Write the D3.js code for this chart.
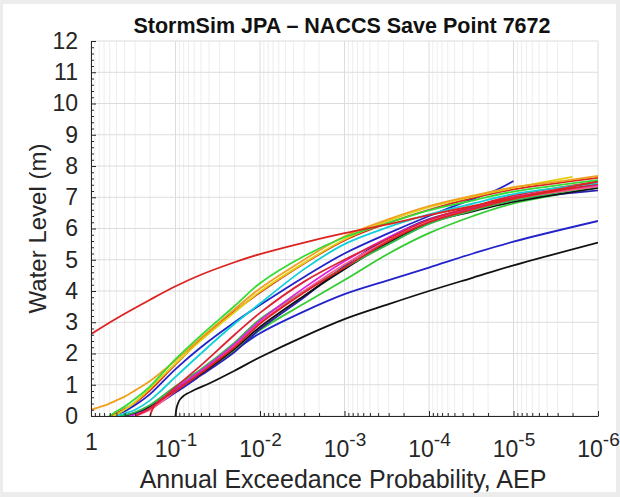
<!DOCTYPE html>
<html><head><meta charset="utf-8">
<script src="https://cdn.jsdelivr.net/npm/d3@7"></script>
<style>
html,body{margin:0;padding:0;background:#ececec;}
svg{display:block;}
text{font-family:"Liberation Sans",Arial,Helvetica,sans-serif;}
</style></head><body><svg id="c" width="620" height="497"></svg>
<script>
// ---- data: [AEP, water level (m)] ----
const redTop   = [[1,2.62],[0.5,3.12],[0.2,3.72],[0.1,4.15],[0.05,4.52],[0.02,4.92],[0.01,5.18],[3e-3,5.55],[1e-3,5.85],[3e-4,6.14],[1e-4,6.43],[3e-5,6.72],[1e-5,6.98],[1e-6,7.5]];
const blackLow = [[0.1,0],[0.098,0.2],[0.095,0.35],[0.09,0.5],[0.08,0.65],[0.06,0.83],[0.04,1.04],[0.02,1.45],[0.01,1.88],[3e-3,2.55],[1e-3,3.1],[3e-4,3.58],[1e-4,4.0],[3e-5,4.43],[1e-5,4.82],[1e-6,5.55]];
const blueLow  = [[0.4,0],[0.3,0.08],[0.2,0.3],[0.15,0.5],[0.1,0.85],[0.05,1.45],[0.02,2.1],[0.01,2.65],[3e-3,3.35],[1e-3,3.9],[3e-4,4.35],[1e-4,4.75],[3e-5,5.2],[1e-5,5.58],[1e-6,6.24]];
const greenLow = [[0.4,0],[0.3,0.08],[0.2,0.25],[0.1,0.8],[0.05,1.35],[0.02,2.1],[0.01,2.75],[3e-3,3.6],[1e-3,4.35],[3e-4,5.2],[1e-4,5.85],[3e-5,6.4],[1e-5,6.8],[1e-6,7.3]];
const blueMid  = [[0.45,0],[0.3,0.08],[0.2,0.25],[0.1,0.75],[0.05,1.3],[0.02,2.05],[0.01,2.78],[3e-3,3.8],[1e-3,4.8],[3e-4,5.7],[1e-4,6.3],[3e-5,6.65],[1e-5,6.92],[1e-6,7.22]];
const blackMid = [[0.45,0],[0.3,0.1],[0.2,0.3],[0.1,0.85],[0.05,1.35],[0.02,2.15],[0.01,2.85],[3e-3,3.85],[1e-3,4.7],[3e-4,5.55],[1e-4,6.18],[3e-5,6.55],[1e-5,6.85],[1e-6,7.3]];
const greenMid = [[0.45,0],[0.3,0.12],[0.2,0.35],[0.1,0.95],[0.05,1.5],[0.02,2.35],[0.01,3.1],[3e-3,4.0],[1e-3,4.75],[3e-4,5.5],[1e-4,6.15],[3e-5,6.58],[1e-5,6.9],[1e-6,7.35]];
const pink     = [[0.3,0],[0.2,0.2],[0.1,0.8],[0.05,1.4],[0.02,2.25],[0.01,3.0],[3e-3,4.0],[1e-3,4.85],[3e-4,5.62],[1e-4,6.22],[3e-5,6.62],[1e-5,6.95],[1e-6,7.35]];
const magenta  = [[0.35,0],[0.25,0.12],[0.2,0.25],[0.1,0.88],[0.05,1.45],[0.02,2.3],[0.01,3.05],[3e-3,4.1],[1e-3,4.95],[3e-4,5.72],[1e-4,6.28],[3e-5,6.68],[1e-5,7.0],[1e-6,7.4]];
const redSteep = [[0.2,0],[0.19,0.18],[0.175,0.35],[0.15,0.52],[0.1,0.8],[0.05,1.38],[0.02,2.2],[0.01,2.95],[3e-3,3.95],[1e-3,4.75],[3e-4,5.6],[1e-4,6.2],[3e-5,6.62],[1e-5,6.95],[1e-6,7.42]];
const redMid   = [[0.3,0],[0.2,0.25],[0.15,0.5],[0.1,0.92],[0.05,1.62],[0.02,2.6],[0.01,3.3],[3e-3,4.3],[1e-3,5.0],[3e-4,5.68],[1e-4,6.28],[3e-5,6.7],[1e-5,7.05],[1e-6,7.5]];
const blueShort= [[0.6,0],[0.4,0.15],[0.3,0.35],[0.2,0.7],[0.1,1.5],[0.05,2.2],[0.02,3.0],[0.01,3.55],[3e-3,4.45],[1e-3,5.2],[3e-4,5.85],[1e-4,6.4],[3e-5,6.95],[1.7e-5,7.2],[1e-5,7.52]];
const cyan     = [[0.5,0],[0.4,0.08],[0.3,0.2],[0.2,0.5],[0.15,0.8],[0.1,1.25],[0.05,2.0],[0.02,2.95],[0.01,3.6],[3e-3,4.7],[1e-3,5.5],[3e-4,6.05],[1e-4,6.45],[3e-5,6.8],[1e-5,7.1],[1e-6,7.45]];
const redUp    = [[0.6,0],[0.45,0.15],[0.3,0.42],[0.2,0.82],[0.1,1.65],[0.05,2.45],[0.02,3.35],[0.01,3.95],[3e-3,4.88],[1e-3,5.62],[3e-4,6.18],[1e-4,6.6],[3e-5,6.98],[1e-5,7.25],[1e-6,7.62]];
const yellow   = [[0.55,0],[0.4,0.2],[0.3,0.45],[0.2,0.88],[0.1,1.68],[0.05,2.42],[0.02,3.32],[0.01,3.98],[3e-3,4.9],[1e-3,5.65],[3e-4,6.25],[1e-4,6.68],[3e-5,7.02],[1e-5,7.3],[2e-6,7.65]];
const orange   = [[1,0.2],[0.7,0.33],[0.5,0.5],[0.4,0.62],[0.3,0.82],[0.2,1.12],[0.1,1.78],[0.05,2.5],[0.02,3.42],[0.01,4.08],[3e-3,5.0],[1e-3,5.75],[3e-4,6.3],[1e-4,6.72],[3e-5,7.05],[1e-5,7.32],[3e-6,7.5],[1e-6,7.68]];
const greenTop = [[0.6,0],[0.5,0.15],[0.4,0.3],[0.3,0.55],[0.2,0.95],[0.1,1.82],[0.05,2.58],[0.02,3.52],[0.01,4.25],[3e-3,5.12],[1e-3,5.72],[3e-4,6.18],[1e-4,6.58],[3e-5,6.9],[1e-5,7.18],[1e-6,7.55]];

const xTicks = [1,1e-1,1e-2,1e-3,1e-4,1e-5,1e-6];
const yTicks = [0,1,2,3,4,5,6,7,8,9,10,11,12];
const titleText = "StormSim JPA – NACCS Save Point 7672";
const xLabel = "Annual Exceedance Probability, AEP";
const yLabel = "Water Level (m)";

const series = [
  {d:blackLow, c:"#111111"},
  {d:blueLow,  c:"#2222cc"},
  {d:greenLow, c:"#33cc33"},
  {d:blueMid,  c:"#2a1fb0"},
  {d:blackMid, c:"#111111"},
  {d:greenMid, c:"#2fb84a"},
  {d:pink,     c:"#ff5a8c"},
  {d:magenta,  c:"#dd22dd"},
  {d:redSteep, c:"#dd2222"},
  {d:redMid,   c:"#dd2233"},
  {d:blueShort,c:"#2222cc"},
  {d:cyan,     c:"#11d0d8"},
  {d:redUp,    c:"#dd2222"},
  {d:yellow,   c:"#e0d010"},
  {d:orange,   c:"#f0a020"},
  {d:greenTop, c:"#33dd33"},
  {d:redTop,   c:"#dd2222"}
];

const svg = d3.select("#c");
svg.append("rect").attr("x",3).attr("y",4).attr("width",613).attr("height",488).attr("fill","#fff");
const M = {l:91, r:598, t:41, b:416};
const x = d3.scaleLog().domain([1,1e-6]).range([M.l,M.r]);
const y = d3.scaleLinear().domain([0,12]).range([M.b,M.t]);

// grid
const minorX = [];
for (let k=0;k<6;k++) for (let m=2;m<=9;m++) minorX.push(m*Math.pow(10,-(k+1)));
const grid = svg.append("g");
grid.selectAll(".mx").data(minorX).join("line")
  .attr("x1",d=>x(d)).attr("x2",d=>x(d)).attr("y1",M.t).attr("y2",M.b)
  .attr("stroke","#ededed").attr("stroke-width",1);
grid.selectAll(".Mx").data(xTicks).join("line")
  .attr("x1",d=>x(d)).attr("x2",d=>x(d)).attr("y1",M.t).attr("y2",M.b)
  .attr("stroke","#dcdcdc").attr("stroke-width",1);
grid.selectAll(".My").data(yTicks).join("line")
  .attr("x1",M.l).attr("x2",M.r).attr("y1",d=>y(d)).attr("y2",d=>y(d))
  .attr("stroke","#dcdcdc").attr("stroke-width",1);

// lines
svg.append("clipPath").attr("id","clip").append("rect")
  .attr("x",M.l).attr("y",M.t).attr("width",M.r-M.l).attr("height",M.b-M.t);
const line = d3.line().x(d=>x(d[0])).y(d=>y(d[1])).curve(d3.curveCatmullRom.alpha(0.5));
svg.append("g").attr("clip-path","url(#clip)").selectAll("path").data(series).join("path")
  .attr("d",s=>line(s.d)).attr("fill","none").attr("stroke",s=>s.c)
  .attr("stroke-width",1.8).attr("stroke-linejoin","round");

// axes
const axisColor = "#262626";
const minorY = d3.range(0,12.001,0.2).filter(v=>Math.abs(v-Math.round(v))>1e-6);
const gyMin = svg.append("g").attr("transform",`translate(${M.l},0)`)
  .call(d3.axisLeft(y).tickValues(minorY).tickSizeInner(-3).tickSizeOuter(0).tickFormat(""));
gyMin.select(".domain").remove();
gyMin.selectAll("line").attr("stroke",axisColor);
const gxMin = svg.append("g").attr("transform",`translate(0,${M.b})`)
  .call(d3.axisBottom(x).tickValues(minorX).tickSizeInner(-3).tickSizeOuter(0).tickFormat(""));
gxMin.select(".domain").remove();
gxMin.selectAll("line").attr("stroke",axisColor);

const gy = svg.append("g").attr("transform",`translate(${M.l},0)`)
  .call(d3.axisLeft(y).tickValues(yTicks).tickSizeInner(-5).tickSizeOuter(0).tickPadding(13).tickFormat(d3.format("d")));
gy.attr("font-family",null).attr("font-size",23);
gy.select(".domain").attr("stroke",axisColor);
gy.selectAll("line").attr("stroke",axisColor);
gy.selectAll("text").attr("fill",axisColor);

const gx = svg.append("g").attr("transform",`translate(0,${M.b})`)
  .call(d3.axisBottom(x).tickValues(xTicks).tickSizeInner(-5).tickSizeOuter(0).tickFormat(""));
gx.attr("font-family",null).attr("font-size",23);
gx.select(".domain").attr("stroke",axisColor);
gx.selectAll("line").attr("stroke",axisColor);
gx.selectAll(".tick text").each(function(d){
  const t = d3.select(this).attr("fill",axisColor).attr("dy",null);
  const k = Math.round(-Math.log10(d));
  if (k===0) { t.attr("y",34).text("1"); }
  else {
    t.attr("y",40.5);
    t.append("tspan").text("10");
    t.append("tspan").attr("dy",-10.5).attr("font-size",19).text("-"+k);
  }
});

// title and labels
svg.append("text").attr("x",342).attr("y",33).attr("text-anchor","middle")
  .attr("font-size",21.5).attr("font-weight","bold").attr("fill","#111").text(titleText);
svg.append("text").attr("x",343).attr("y",488).attr("text-anchor","middle")
  .attr("font-size",25).attr("fill",axisColor).text(xLabel);
svg.append("text").attr("transform",`translate(46,${(M.t+M.b)/2}) rotate(-90)`).attr("text-anchor","middle")
  .attr("font-size",24).attr("fill",axisColor).text(yLabel);
</script></body></html>
